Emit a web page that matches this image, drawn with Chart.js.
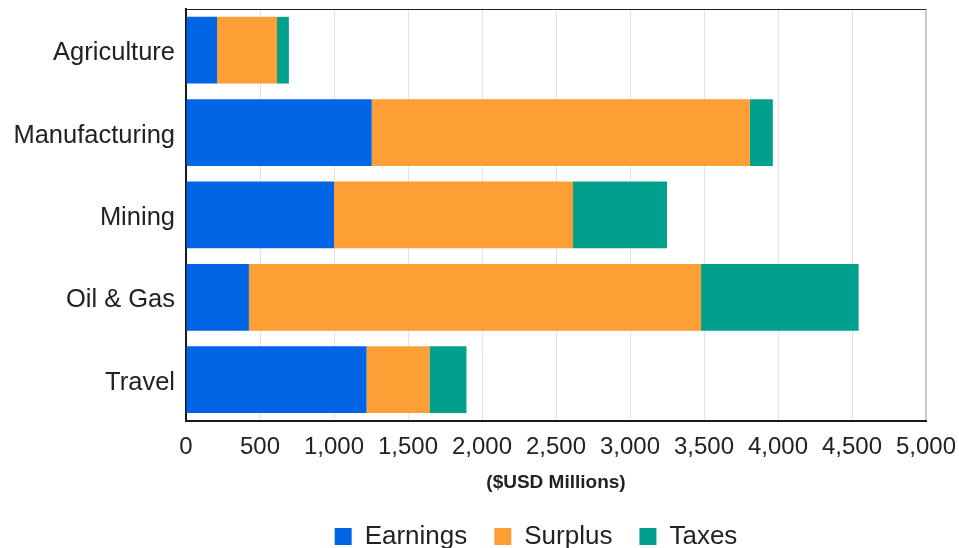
<!DOCTYPE html>
<html>
<head>
<meta charset="utf-8">
<script src="https://cdn.jsdelivr.net/npm/chart.js@4.4.1/dist/chart.umd.min.js"></script>
<style>
  html, body { margin: 0; padding: 0; background: #ffffff; }
  #wrap { width: 959px; height: 548px; position: relative; }
</style>
</head>
<body>
<div id="wrap"><canvas id="chart"></canvas></div>
<script>
// Sector breakdown of value added, $USD millions
const sectors = ['Agriculture', 'Manufacturing', 'Mining', 'Oil & Gas', 'Travel'];
const earnings = [210, 1255, 1000, 425, 1220];
const surplus = [405, 2555, 1615, 3055, 425];
const taxes = [80, 155, 635, 1065, 250];
const xTickStep = 500;
const xMax = 5000;
const axisTitle = '($USD Millions)';

const FONT = '"Liberation Sans", Arial, Helvetica, sans-serif';
const TEXT = '#222222';

// Width reserved for the category labels left of the plot
const PLOT_LEFT = 186;
// Horizontal offset of the legend row from the canvas centre
const LEGEND_SHIFT = 73;

Chart.defaults.font.family = FONT;
Chart.defaults.color = TEXT;

// Moves the bottom legend sideways so it sits under the plot area
const legendShift = {
  id: 'legendShift',
  afterLayout(chart) {
    const lg = chart.legend;
    if (!lg) return;
    lg.left += LEGEND_SHIFT;
    lg.right += LEGEND_SHIFT;
  }
};

new Chart(document.getElementById('chart'), {
  type: 'bar',
  data: {
    labels: sectors,
    datasets: [
      { label: 'Earnings', data: earnings, backgroundColor: '#0165E5' },
      { label: 'Surplus', data: surplus, backgroundColor: '#FE9F36' },
      { label: 'Taxes', data: taxes, backgroundColor: '#01A08C' }
    ]
  },
  plugins: [legendShift],
  options: {
    indexAxis: 'y',
    responsive: true,
    maintainAspectRatio: false,
    animation: false,
    categoryPercentage: 0.81,
    barPercentage: 1,
    layout: { padding: { top: 9, right: 33, bottom: -11.5, left: 0 } },
    plugins: {
      tooltip: { enabled: false },
      legend: {
        position: 'bottom',
        labels: {
          boxWidth: 17,
          boxHeight: 17,
          padding: 27,
          color: TEXT,
          font: { size: 26, family: FONT }
        }
      }
    },
    scales: {
      x: {
        stacked: true,
        min: 0,
        max: xMax,
        afterFit: scale => { scale.paddingLeft = 0; scale.paddingRight = 0; },
        ticks: {
          stepSize: xTickStep,
          color: TEXT,
          padding: 12,
          font: { size: 24, family: FONT },
          callback: v => v.toLocaleString('en-US')
        },
        grid: {
          drawTicks: false,
          color: ctx => (ctx.tick && ctx.tick.value === xMax) ? '#cccccc' : '#e4e4e4',
          lineWidth: ctx => (ctx.tick && ctx.tick.value === xMax) ? 2 : 1
        },
        border: { color: '#1a1a1a', width: 2 },
        title: {
          display: true,
          text: axisTitle,
          color: TEXT,
          font: { size: 19, weight: 'bold', family: FONT },
          padding: { top: -2, bottom: 2 }
        }
      },
      y: {
        stacked: true,
        afterFit: scale => {
          scale.width = PLOT_LEFT;
          scale.paddingTop = 0;
          scale.paddingBottom = 0;
        },
        ticks: {
          color: TEXT,
          padding: 11,
          labelOffset: 3,
          font: { size: 25.5, family: FONT }
        },
        grid: {
          drawTicks: false,
          color: ctx => ctx.index === 0 ? '#222222' : 'rgba(0,0,0,0)',
          lineWidth: 1
        },
        border: { color: '#1a1a1a', width: 2 }
      }
    }
  }
});
</script>
</body>
</html>
